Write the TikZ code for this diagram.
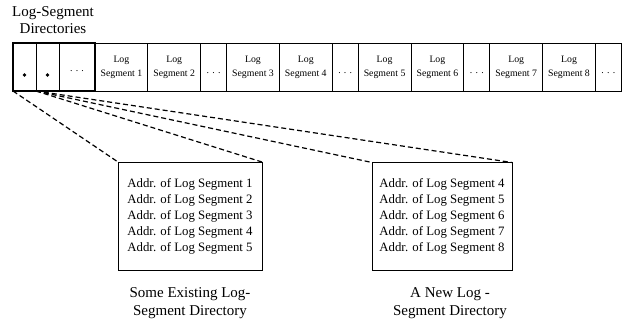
\documentclass[tikz,border=0pt]{standalone}
\usepackage{fontspec}
\setmainfont{Liberation Serif}
\usetikzlibrary{positioning}

\begin{document}
\begin{tikzpicture}[x=1pt,y=-1pt,
		cell/.style={draw,line width=0.8pt,minimum height=48pt,inner sep=0pt,outer sep=0pt,align=center,font=\fontsize{9.8}{14}\selectfont},
		segcell/.style={cell,minimum width=52.8pt},
		dotcell/.style={cell,minimum width=26pt,text height=12pt,text depth=0pt},
		dircell/.style={cell,minimum width=23pt},
		addrbox/.style={draw,line width=0.8pt,outer sep=0pt,minimum width=144pt,minimum height=108pt,align=left,font=\fontsize{12.8}{16}\selectfont},
		captext/.style={align=center,font=\fontsize{15}{18}\selectfont},
		dirlink/.style={line width=1.2pt,dash pattern=on 5pt off 3pt}]
	\useasboundingbox (0,0) rectangle (632,324);
	\node[captext,font=\fontsize{15}{17}\selectfont] (dirlabel) at (53,20) {Log-Segment\\Directories};
	% directory slots
	\node[dircell,anchor=west] (dir1) at (13,67) {};
	\node[dircell,right=0pt of dir1] (dir2) {};
	\node[dotcell,minimum width=36pt,text height=8pt,right=0pt of dir2] (dir3) {. . .};
	\fill (dir1.center) ++(0,8) circle (1.8pt);
	\fill (dir2.center) ++(0,8) circle (1.8pt);
	\draw[line width=2pt] (dir1.north west) rectangle (dir3.south east);
	% log segments
	\node[segcell,right=0pt of dir3] (seg1) {Log\\Segment 1};
	\node[segcell,right=0pt of seg1] (seg2) {Log\\Segment 2};
	\node[dotcell,right=0pt of seg2] (gap1) {. . .};
	\node[segcell,right=0pt of gap1] (seg3) {Log\\Segment 3};
	\node[segcell,right=0pt of seg3] (seg4) {Log\\Segment 4};
	\node[dotcell,right=0pt of seg4] (gap2) {. . .};
	\node[segcell,right=0pt of gap2] (seg5) {Log\\Segment 5};
	\node[segcell,right=0pt of seg5] (seg6) {Log\\Segment 6};
	\node[dotcell,right=0pt of seg6] (gap3) {. . .};
	\node[segcell,right=0pt of gap3] (seg7) {Log\\Segment 7};
	\node[segcell,right=0pt of seg7] (seg8) {Log\\Segment 8};
	\node[dotcell,right=0pt of seg8] (gap4) {. . .};
	% directory contents
	\node[addrbox] (oldDir) at (190,216) {Addr. of Log Segment 1\\Addr. of Log Segment 2\\Addr. of Log Segment 3\\Addr. of Log Segment 4\\Addr. of Log Segment 5};
	\node[addrbox,minimum width=140pt] (newDir) at (442,216.5) {Addr. of Log Segment 4\\Addr. of Log Segment 5\\Addr. of Log Segment 6\\Addr. of Log Segment 7\\Addr. of Log Segment 8};
	\node[captext] (oldCap) at (190,303) {Some Existing Log-\\Segment Directory};
	\node[captext] (newCap) at (450,303) {A New Log -\\Segment Directory};
	\draw[dirlink] (dir1.south west) -- (oldDir.north west);
	\draw[dirlink] (dir1.south east) -- (oldDir.north east);
	\draw[dirlink] (dir1.south east) -- (newDir.north west);
	\draw[dirlink] (dir1.south east) -- (newDir.north east);
\end{tikzpicture}
\end{document}
